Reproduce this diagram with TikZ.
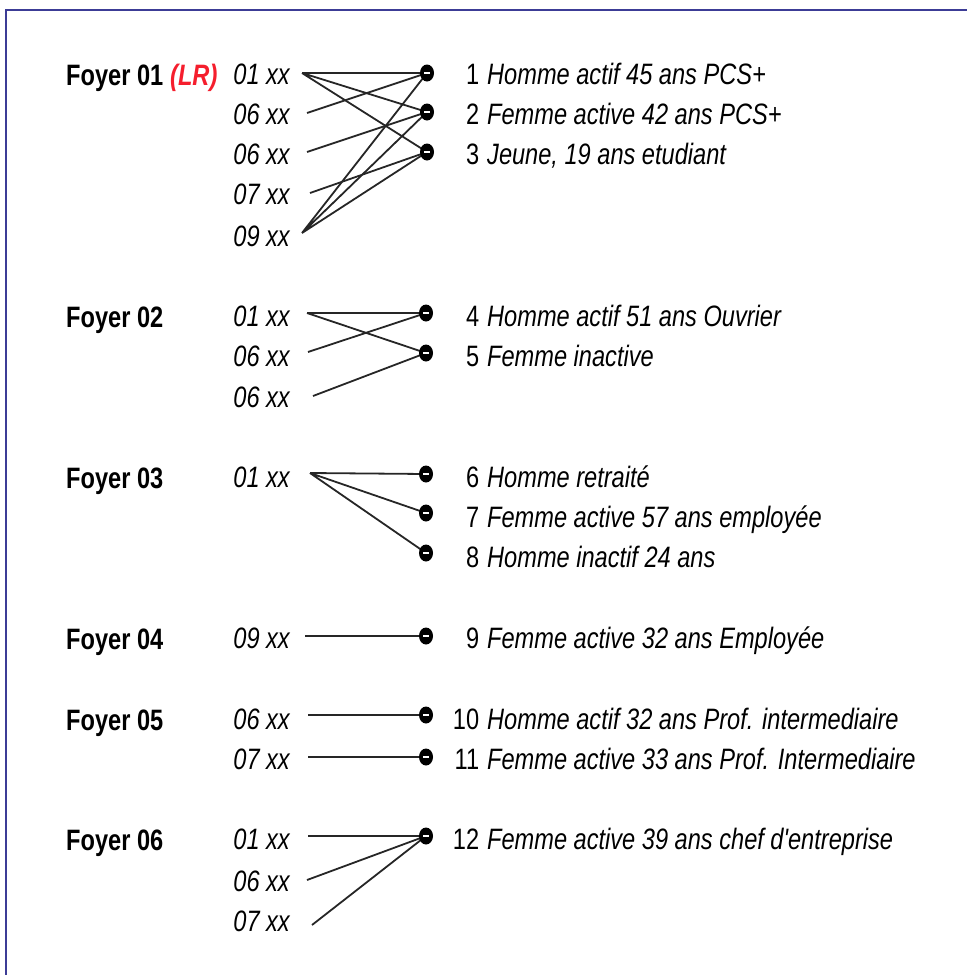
\documentclass[tikz,border=0pt]{standalone}
\usepackage{fontspec}
\setmainfont{Liberation Sans}[FakeStretch=0.8, Ligatures=TeXOff]
\usetikzlibrary{shapes.geometric}
\definecolor{frameblue}{RGB}{60,60,150}
\definecolor{lrred}{RGB}{245,30,45}
\tikzset{
  txt/.style={inner sep=0pt},
  foyer/.style={txt, anchor=base west, font=\fontsize{29.5}{32}\selectfont\bfseries},
  code/.style={txt, anchor=base east, font=\fontsize{29.5}{32}\selectfont\itshape},
  desc/.style={txt, anchor=base west, font=\fontsize{29.5}{32}\selectfont},
  dot/.style={ellipse, fill=black, minimum width=14pt, minimum height=17pt, inner sep=0pt,
    path picture={\draw[white, line width=1.4pt] ([xshift=-3pt]path picture bounding box.center) -- ([xshift=3pt]path picture bounding box.center);}},
  link/.style={line width=1.8pt, black!85},
  frame/.style={line width=2pt, frameblue},
}
\newcommand{\desctext}[2]{\makebox[33pt][r]{#1}\hspace{8pt}\textit{#2}}
\begin{document}
\begin{tikzpicture}[x=1pt, y=-1pt]
\useasboundingbox (0,0) rectangle (967,975);
\coordinate (ftl) at (6,10);
\coordinate (ftr) at (967,10);
\coordinate (fbl) at (6,975);
\draw[frame] (fbl) -- (ftl) -- (ftr);

% Foyer labels
\node[foyer] (f1) at (66,85) {Foyer 01};
\node[txt, anchor=base west, font=\fontsize{29.5}{32}\selectfont\bfseries\itshape, text=lrred] (lr) at (170,85) {(LR)};
\node[foyer] (f2) at (66,327) {Foyer 02};
\node[foyer] (f3) at (66,488) {Foyer 03};
\node[foyer] (f4) at (66,649) {Foyer 04};
\node[foyer] (f5) at (66,730) {Foyer 05};
\node[foyer] (f6) at (66,850) {Foyer 06};

% codes
\node[code] (c11) at (290,84) {01 xx};
\node[code] (c12) at (290,124) {06 xx};
\node[code] (c13) at (290,164) {06 xx};
\node[code] (c14) at (290,204) {07 xx};
\node[code] (c15) at (290,246) {09 xx};
\node[code] (c21) at (290,326) {01 xx};
\node[code] (c22) at (290,366) {06 xx};
\node[code] (c23) at (290,407) {06 xx};
\node[code] (c31) at (290,487) {01 xx};
\node[code] (c41) at (290,648) {09 xx};
\node[code] (c51) at (290,729) {06 xx};
\node[code] (c52) at (290,769) {07 xx};
\node[code] (c61) at (290,849) {01 xx};
\node[code] (c62) at (290,891) {06 xx};
\node[code] (c63) at (290,931) {07 xx};

% line start points
\coordinate (s11) at (302,73);
\coordinate (s12) at (307,113);
\coordinate (s13) at (307,152);
\coordinate (s14) at (310,193);
\coordinate (s15) at (302,233);
\coordinate (s21) at (307,313);
\coordinate (s22) at (308,352);
\coordinate (s23) at (313,396);
\coordinate (s31) at (310,473);
\coordinate (s41) at (305,636);
\coordinate (s51) at (308,715);
\coordinate (s52) at (308,757);
\coordinate (s61) at (308,836);
\coordinate (s62) at (307,880);
\coordinate (s63) at (312,925);

% connectors (drawn first, dots on top)
\draw[link] (s11) -- (427,73) (s11) -- (427,112) (s11) -- (427,152);
\draw[link] (s12) -- (427,73);
\draw[link] (s13) -- (427,112);
\draw[link] (s14) -- (427,152);
\draw[link] (s15) -- (427,73) (s15) -- (427,112) (s15) -- (427,152);
\draw[link] (s21) -- (426,313) (s21) -- (426,353);
\draw[link] (s22) -- (426,313);
\draw[link] (s23) -- (426,353);
\draw[link] (s31) -- (426,474) (s31) -- (426,513) (s31) -- (426,553);
\draw[link] (s41) -- (426,636);
\draw[link] (s51) -- (426,715);
\draw[link] (s52) -- (426,757);
\draw[link] (s61) -- (426,836) (s62) -- (426,836) (s63) -- (426,836);

% dots
\node[dot] (d1) at (427,73) {};
\node[dot] (d2) at (427,112) {};
\node[dot] (d3) at (427,152) {};
\node[dot] (d4) at (426,313) {};
\node[dot] (d5) at (426,353) {};
\node[dot] (d6) at (426,474) {};
\node[dot] (d7) at (426,513) {};
\node[dot] (d8) at (426,553) {};
\node[dot] (d9) at (426,636) {};
\node[dot] (d10) at (426,715) {};
\node[dot] (d11) at (426,757) {};
\node[dot] (d12) at (426,836) {};

% descriptions
\node[desc] (t1) at (446,84) {\desctext{1}{Homme actif 45 ans PCS+}};
\node[desc] (t2) at (446,124) {\desctext{2}{Femme active 42 ans PCS+}};
\node[desc] (t3) at (446,164) {\desctext{3}{Jeune, 19 ans etudiant}};
\node[desc] (t4) at (446,326) {\desctext{4}{Homme actif 51 ans Ouvrier}};
\node[desc] (t5) at (446,366) {\desctext{5}{Femme inactive}};
\node[desc] (t6) at (446,487) {\desctext{6}{Homme retraité}};
\node[desc] (t7) at (446,527) {\desctext{7}{Femme active 57 ans employée}};
\node[desc] (t8) at (446,567) {\desctext{8}{Homme inactif 24 ans}};
\node[desc] (t9) at (446,648) {\desctext{9}{Femme active 32 ans Employée}};
\node[desc] (t10) at (446,729) {\desctext{10}{Homme actif 32 ans Prof. intermediaire}};
\node[desc] (t11) at (446,769) {\desctext{11}{Femme active 33 ans Prof. Intermediaire}};
\node[desc] (t12) at (446,849) {\desctext{12}{Femme active 39 ans chef d'entreprise}};
\end{tikzpicture}
\end{document}
